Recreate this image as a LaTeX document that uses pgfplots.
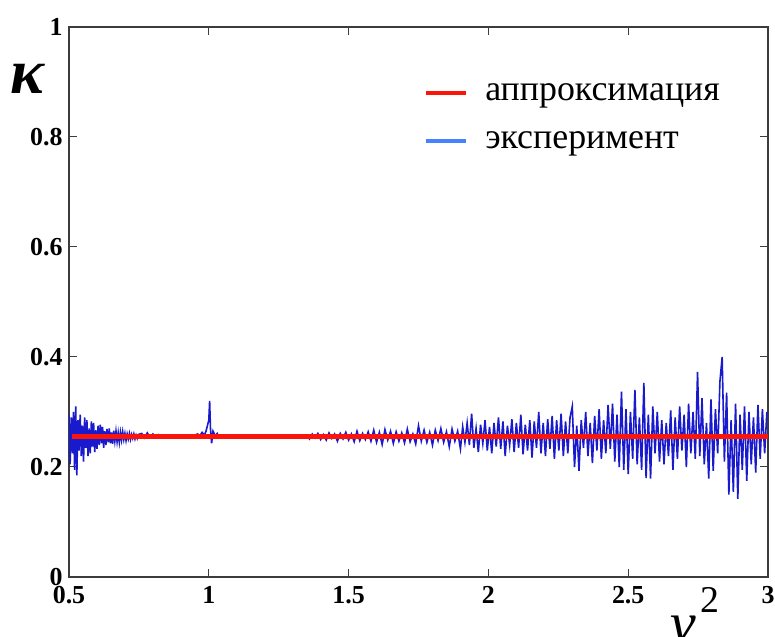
\documentclass[border=0pt]{standalone}
\usepackage{pgfplots}
\pgfplotsset{compat=1.18}
\usepackage{fontspec}
\setmainfont{Liberation Serif}
\definecolor{axgray}{RGB}{60,60,60}
\definecolor{expblue}{RGB}{25,25,205}
\definecolor{legblue}{RGB}{70,130,255}
\definecolor{aprred}{RGB}{250,20,10}
\begin{document}
\begin{tikzpicture}
\useasboundingbox (-69bp,-60bp) rectangle (706bp,577bp);
\begin{axis}[
  at={(0,0)}, anchor=south west,
  scale only axis, width=699bp, height=550bp,
  xmin=0.5, xmax=3, ymin=0, ymax=1,
  xtick={0.5,1,1.5,2,2.5,3}, ytick={0,0.2,0.4,0.6,0.8,1},
  xticklabels={0.5,1,1.5,2,2.5,3},
  yticklabels={0,0.2,0.4,0.6,0.8,1},
  tick align=inside, major tick length=8bp,
  axis line style={axgray, line width=1.2bp},
  every tick/.style={axgray, line width=1bp},
  tick label style={font=\bfseries\fontsize{26}{26}\selectfont, text=black},
  xticklabel style={yshift=-6bp},
  yticklabel style={xshift=-3bp},
  /pgf/number format/assume math mode=true,
  legend style={at={(rel axis cs:0.508,0.901)}, anchor=north west, draw=none, fill=none,
    font=\fontsize{36}{36}\selectfont, inner sep=0pt, row sep=25bp,
    nodes={inner sep=2bp, text depth=0.2em}},
  legend cell align=left,
  clip=true,
]
\addplot[expblue, line width=1.6bp, forget plot] table {
x y
0.500 0.295
0.504 0.205
0.508 0.290
0.512 0.225
0.516 0.300
0.520 0.195
0.524 0.310
0.528 0.185
0.532 0.285
0.536 0.230
0.540 0.295
0.544 0.220
0.548 0.275
0.552 0.210
0.556 0.290
0.560 0.235
0.564 0.285
0.568 0.220
0.572 0.270
0.576 0.225
0.580 0.283
0.584 0.237
0.588 0.280
0.592 0.227
0.596 0.267
0.600 0.233
0.604 0.275
0.608 0.240
0.612 0.277
0.616 0.243
0.620 0.273
0.624 0.235
0.628 0.265
0.632 0.240
0.636 0.269
0.640 0.245
0.644 0.270
0.648 0.243
0.652 0.263
0.656 0.242
0.660 0.266
0.664 0.247
0.668 0.265
0.672 0.246
0.676 0.262
0.680 0.245
0.684 0.263
0.688 0.249
0.692 0.264
0.696 0.250
0.700 0.261
0.704 0.248
0.708 0.260
0.712 0.251
0.716 0.261
0.720 0.250
0.724 0.259
0.728 0.252
0.732 0.260
0.736 0.251
0.740 0.258
0.744 0.252
0.748 0.259
0.76 0.261
0.77 0.253
0.78 0.262
0.79 0.254
0.80 0.260
0.81 0.256
0.82 0.259
0.83 0.254
0.84 0.258
0.85 0.255
0.86 0.257
0.87 0.254
0.88 0.256
0.89 0.255
0.90 0.256
0.91 0.254
0.92 0.255
0.93 0.256
0.94 0.255
0.95 0.258
0.960 0.260
0.968 0.257
0.976 0.263
0.984 0.258
0.990 0.265
0.995 0.275
1.000 0.285
1.003 0.320
1.006 0.270
1.010 0.243
1.015 0.265
1.020 0.260
1.025 0.257
1.030 0.261
1.035 0.256
1.040 0.258
1.05 0.255
1.07 0.254
1.09 0.256
1.11 0.255
1.13 0.254
1.15 0.256
1.17 0.255
1.19 0.254
1.21 0.256
1.23 0.255
1.25 0.256
1.27 0.254
1.29 0.255
1.31 0.256
1.33 0.254
1.35 0.258
1.36 0.251
1.37 0.260
1.38 0.253
1.39 0.261
1.40 0.250
1.41 0.259
1.42 0.249
1.43 0.262
1.44 0.252
1.45 0.260
1.46 0.247
1.47 0.261
1.48 0.251
1.49 0.263
1.50 0.249
1.51 0.260
1.52 0.246
1.53 0.265
1.54 0.248
1.55 0.261
1.56 0.250
1.57 0.264
1.58 0.247
1.59 0.267
1.60 0.245
1.61 0.263
1.62 0.241
1.63 0.268
1.64 0.249
1.65 0.265
1.66 0.243
1.67 0.264
1.68 0.247
1.69 0.262
1.70 0.244
1.71 0.269
1.72 0.246
1.73 0.260
1.74 0.242
1.75 0.275
1.76 0.247
1.77 0.267
1.78 0.245
1.79 0.263
1.80 0.240
1.81 0.267
1.82 0.248
1.83 0.270
1.84 0.245
1.85 0.264
1.86 0.237
1.87 0.269
1.88 0.247
1.89 0.265
1.900 0.233
1.908 0.273
1.916 0.245
1.924 0.280
1.932 0.240
1.940 0.297
1.948 0.235
1.956 0.270
1.964 0.227
1.972 0.277
1.980 0.243
1.988 0.285
1.996 0.230
2.004 0.273
2.012 0.225
2.020 0.280
2.028 0.237
2.036 0.290
2.044 0.233
2.052 0.283
2.060 0.220
2.068 0.275
2.076 0.240
2.084 0.287
2.092 0.227
2.100 0.280
2.108 0.235
2.116 0.295
2.124 0.223
2.132 0.277
2.140 0.230
2.148 0.285
2.156 0.217
2.164 0.283
2.172 0.235
2.180 0.300
2.188 0.225
2.196 0.280
2.204 0.220
2.212 0.287
2.220 0.233
2.228 0.293
2.236 0.215
2.244 0.285
2.252 0.230
2.260 0.297
2.268 0.220
2.276 0.283
2.284 0.225
2.292 0.290
2.300 0.310
2.308 0.200
2.316 0.275
2.324 0.193
2.332 0.285
2.340 0.235
2.348 0.300
2.356 0.220
2.364 0.280
2.372 0.207
2.380 0.293
2.388 0.230
2.396 0.305
2.404 0.215
2.412 0.285
2.420 0.225
2.428 0.313
2.436 0.233
2.444 0.315
2.452 0.210
2.460 0.295
2.468 0.200
2.476 0.337
2.484 0.195
2.492 0.305
2.500 0.187
2.508 0.300
2.516 0.215
2.524 0.340
2.532 0.205
2.540 0.290
2.548 0.195
2.556 0.353
2.564 0.180
2.572 0.295
2.580 0.179
2.588 0.310
2.596 0.225
2.604 0.300
2.612 0.210
2.620 0.285
2.628 0.205
2.636 0.280
2.644 0.220
2.652 0.303
2.660 0.195
2.668 0.290
2.676 0.215
2.684 0.310
2.692 0.230
2.700 0.295
2.708 0.200
2.716 0.315
2.724 0.225
2.732 0.300
2.740 0.215
2.748 0.373
2.756 0.220
2.764 0.325
2.772 0.205
2.780 0.280
2.788 0.179
2.796 0.323
2.804 0.193
2.812 0.305
2.820 0.225
2.828 0.355
2.836 0.400
2.844 0.210
2.852 0.335
2.860 0.150
2.868 0.285
2.876 0.155
2.884 0.315
2.892 0.142
2.900 0.295
2.908 0.195
2.916 0.310
2.924 0.175
2.932 0.300
2.940 0.205
2.948 0.290
2.956 0.190
2.964 0.313
2.972 0.215
2.980 0.305
2.988 0.225
2.996 0.300
};
\addplot[aprred, line width=4.5bp,
  legend image code/.code={\draw[aprred, line width=3.5bp] (0bp,0bp) -- (40bp,0bp); \path (55bp,0bp);}]
  coordinates {(0.51,0.255) (3,0.255)};
\addlegendentry{аппроксимация}
\addlegendimage{legend image code/.code={\draw[legblue, line width=3.5bp] (0bp,0bp) -- (40bp,0bp); \path (55bp,0bp);}}
\addlegendentry{эксперимент}
\end{axis}
\node at (-42bp,498bp) {\fontsize{64}{64}\selectfont\bfseries\itshape κ};
\node[anchor=base west, inner sep=0pt] at (601bp,-65bp)
  {\fontsize{58}{58}\selectfont\itshape ν\upshape\kern5bp\raisebox{30bp}{\fontsize{38}{38}\selectfont 2}};
\end{tikzpicture}
\end{document}
